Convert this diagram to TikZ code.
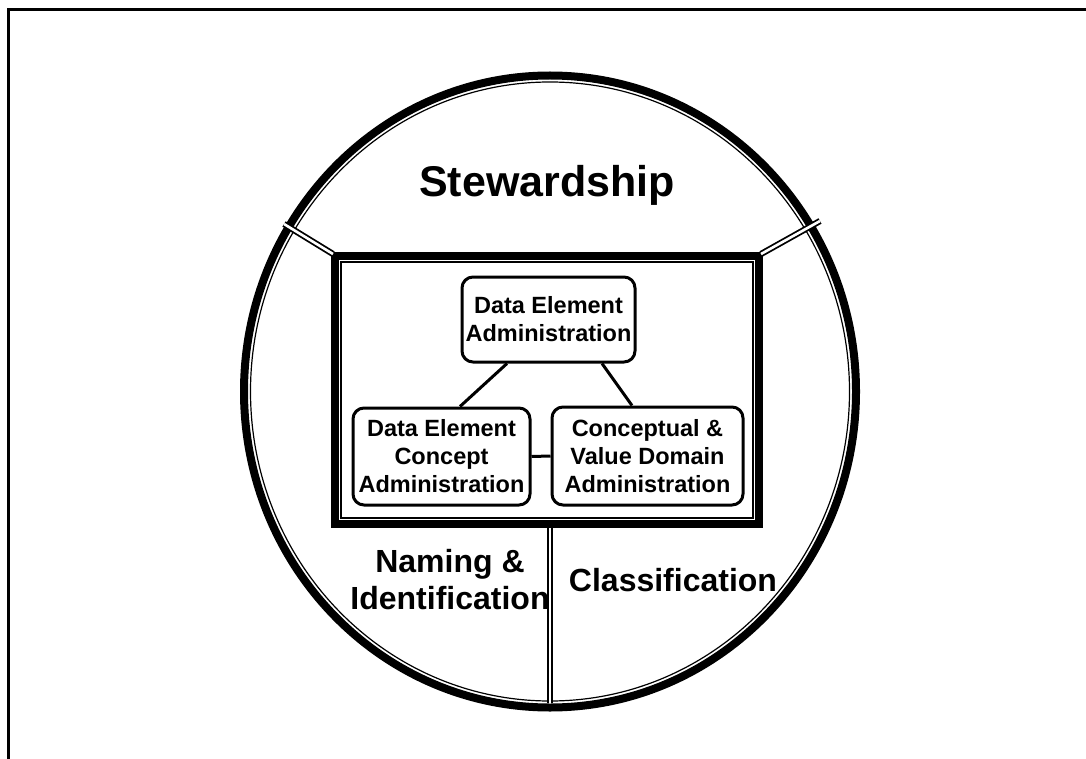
\documentclass[tikz,border=0pt]{standalone}
\usepackage{fontspec}
\setmainfont{Liberation Sans}
\usetikzlibrary{calc}
\begin{document}
\begin{tikzpicture}[x=1pt,y=-1pt,
  thickline/.style={line width=8pt},
  thinline/.style={line width=1.2pt},
  dbl/.style={draw=black, line width=1.8pt, double=white, double distance=2.6pt},
  admbox/.style={draw, line width=3pt, rounded corners=11pt, align=center, inner sep=0pt,
     font=\fontsize{23.5}{28}\selectfont\bfseries},
  link/.style={line width=3pt},
  biglabel/.style={align=center, inner sep=0pt, font=\fontsize{32}{37}\selectfont\bfseries}
]
\useasboundingbox (0,0) rectangle (1086,759);
% page frame
\draw[line width=3pt] (8.5,760) -- (8.5,9.5) -- (1087,9.5);
% big circle (thick outside, thin inside)
\coordinate (cc) at (550,391.5);
\draw[thickline] (cc) ellipse [x radius=306pt, y radius=316pt];
\draw[thinline] (cc) ellipse [x radius=299.5pt, y radius=309.5pt];
% centre board
\draw[thickline] (335,256) rectangle (759,524);
\draw[thinline] (341,262) rectangle (753,518);
% coordinates of the dividers
\coordinate (bTL) at (333,254);
\coordinate (bTR) at (761,254);
\coordinate (bB) at (550,528);
\coordinate (cL) at (284,224);
\coordinate (cR) at (820,221);
\coordinate (cB) at (550,703);
\draw[dbl] (cL) -- (bTL);
\draw[dbl] (cR) -- (bTR);
\draw[dbl] (bB) -- (cB);
% inner nodes
\node[admbox, minimum width=173pt, minimum height=85pt] (dea) at (548.5,319.5) {Data Element\\Administration};
\node[admbox, minimum width=177pt, minimum height=97pt] (deca) at (441.5,456.5) {Data Element\\Concept\\Administration};
\node[admbox, minimum width=191pt, minimum height=98pt] (cvda) at (647.5,456) {Conceptual \&\\Value Domain\\Administration};
\draw[link] ($(dea.south)+(-41.5,0)$) -- ($(deca.north)+(18.5,0)$);
\draw[link] ($(dea.south)+(53.5,0)$) -- ($(cvda.north)+(-15.5,0)$);
\draw[link] (deca.east) -- (cvda.west);
% big labels
\node[font=\fontsize{43}{50}\selectfont\bfseries, inner sep=0pt] (stew) at (547,185) {Stewardship};
\node[biglabel] (naming) at (450,580) {Naming \&\\Identification};
\node[biglabel] (class) at (673,580) {Classification};
\end{tikzpicture}
\end{document}
